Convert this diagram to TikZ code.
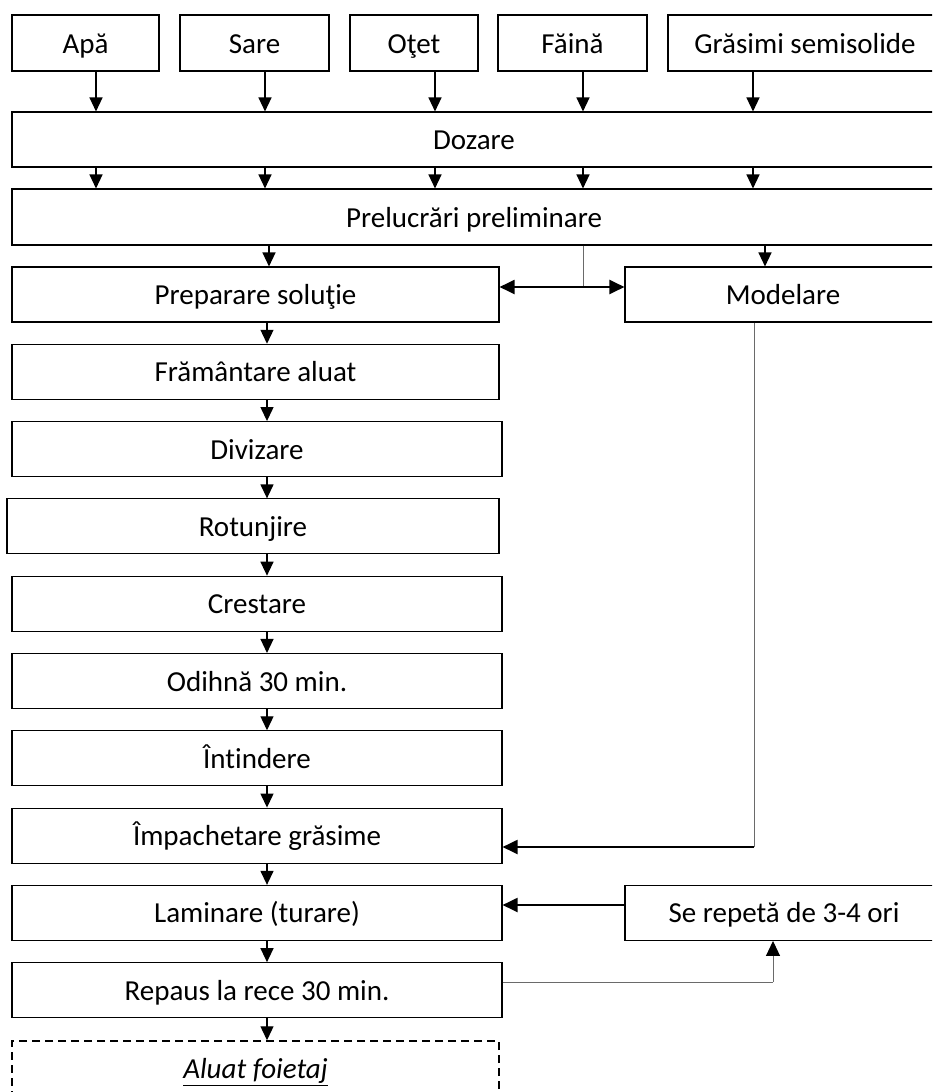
\documentclass[tikz,border=0pt]{standalone}
\usepackage{fontspec}
\setmainfont{Carlito}[Ligatures=NoCommon]
\usetikzlibrary{arrows.meta}
\definecolor{Ink}{HTML}{000000}
\definecolor{Rule}{HTML}{6A6A6A}
\tikzset{
    flowbox/.style={rectangle, draw=Ink, line width=1.1pt, minimum height=55pt, inner sep=2pt, text height=20pt, text depth=0pt, font=\fontsize{29}{34}\selectfont},
    endbox/.style={flowbox, dash pattern=on 8pt off 5pt, line width=1.5pt},
    arrow/.style={-{Triangle[width=13pt,length=14pt]}, line width=1.3pt, draw=Ink},
    thickarrow/.style={-{Triangle[width=14pt,length=15pt]}, line width=2pt, draw=Ink},
    dblarrow/.style={{Triangle[width=14pt,length=15pt]}-{Triangle[width=14pt,length=15pt]}, line width=2pt, draw=Ink},
    thinline/.style={line width=1pt, draw=Rule},
    thinarrow/.style={-{Triangle[width=14pt,length=15pt,color=Ink]}, line width=1pt, draw=Rule},
}

\begin{document}
\begin{tikzpicture}[x=1pt, y=-1pt]
    % Cadru
    \path[use as bounding box, clip] (0,0) rectangle (932,1092);
    \fill[white] (0,0) rectangle (932,1092);

    % Materii prime
    \node[flowbox, minimum width=147pt, minimum height=56pt] (apa) at (85.5,43) {Apă};
    \node[flowbox, minimum width=149pt, minimum height=56pt] (sare) at (254.5,43) {Sare};
    \node[flowbox, minimum width=128pt, minimum height=56pt] (otet) at (414,43) {Oţet};
    \node[flowbox, minimum width=149pt, minimum height=56pt] (faina) at (572.5,43) {Făină};
    \node[flowbox, minimum width=274pt, minimum height=56pt] (grasimi) at (805,43) {Grăsimi semisolide};

    % Operatii comune
    \node[flowbox, minimum width=924pt] (dozare) at (474,139.5) {Dozare};
    \node[flowbox, minimum width=924pt, minimum height=56pt] (prelucrari) at (474,217) {Prelucrări preliminare};

    \foreach \src/\px in {apa/96, sare/265, otet/435, faina/583, grasimi/753} {
        \draw[arrow] (\src.south -| \px,0) -- (dozare.north -| \px,0);
        \draw[arrow] (dozare.south -| \px,0) -- (prelucrari.north -| \px,0);
    }

    % Fluxul aluatului
    \node[flowbox, minimum width=487pt] (preparare) at (255.5,294.5) {Preparare soluţie};
    \node[flowbox, minimum width=487pt] (framantare) at (255.5,371.8) {Frământare aluat};
    \node[flowbox, minimum width=490pt] (divizare) at (257,449.1) {Divizare};
    \node[flowbox, minimum width=492pt] (rotunjire) at (253,526.4) {Rotunjire};
    \node[flowbox, minimum width=490pt] (crestare) at (257,603.7) {Crestare};
    \node[flowbox, minimum width=490pt] (odihna) at (257,681) {Odihnă 30 min.};
    \node[flowbox, minimum width=490pt] (intindere) at (257,758.3) {Întindere};
    \node[flowbox, minimum width=490pt] (impachetare) at (257,835.6) {Împachetare grăsime};
    \node[flowbox, minimum width=490pt] (laminare) at (257,912.9) {Laminare (turare)};
    \node[flowbox, minimum width=490pt] (repaus) at (257,990.2) {Repaus la rece 30 min.};
    \node[endbox, minimum width=487pt] (aluat) at (255.5,1068.5) {\underline{\textit{Aluat foietaj}}};

    \foreach \a/\b in {preparare/framantare, framantare/divizare, divizare/rotunjire, rotunjire/crestare, crestare/odihna, odihna/intindere, intindere/impachetare, impachetare/laminare, laminare/repaus, repaus/aluat}
        \draw[arrow] (\a.south -| 267,0) -- (\b.north -| 267,0);

    % Ramura grasimii
    \node[flowbox, minimum width=316pt] (modelare) at (783,294.5) {Modelare};
    \node[flowbox, minimum width=318pt] (repeta) at (784,912.9) {Se repetă de 3-4 ori};

    \draw[arrow] (prelucrari.south -| 269,0) -- (preparare.north -| 269,0);
    \draw[arrow] (prelucrari.south -| 765,0) -- (modelare.north -| 765,0);

    \coordinate (nod) at (583,287);
    \draw[thinline] (prelucrari.south -| nod) -- (nod);
    \draw[dblarrow] (preparare.east |- nod) -- (modelare.west |- nod);

    \coordinate (cot1) at (754,847);
    \draw[thinline] (modelare.south -| cot1) -- (cot1);
    \draw[thickarrow] (cot1) -- (impachetare.east |- cot1);

    % Bucla de laminare
    \coordinate (cot2) at (625,905);
    \draw[thickarrow] (repeta.west |- cot2) -- (laminare.east |- cot2);
    \coordinate (cot3) at (773,982);
    \draw[thinline] (repaus.east |- cot3) -- (cot3);
    \draw[thinarrow] (cot3) -- (repeta.south -| cot3);
\end{tikzpicture}
\end{document}
